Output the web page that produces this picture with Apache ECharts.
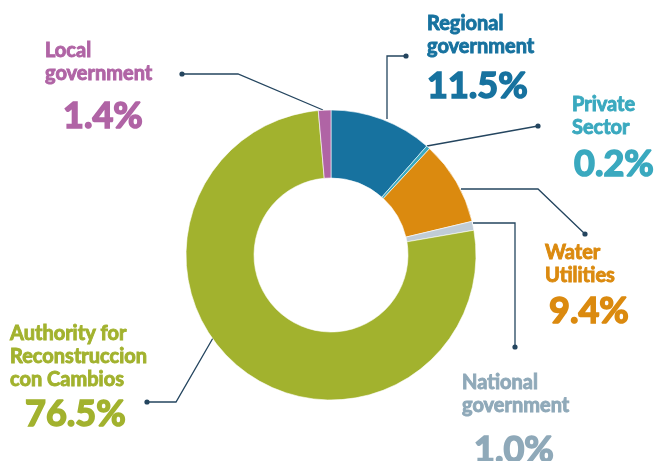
<!DOCTYPE html>
<html><head><meta charset="utf-8">
<script src="https://cdn.jsdelivr.net/npm/echarts@6/dist/echarts.min.js"></script>
<style>html,body{margin:0;padding:0;background:#fff}#c{width:660px;height:461px}</style>
</head><body><div id="c"></div>
<script>
// ---- data ----
const categories = ['Regional\ngovernment', 'Private\nSector', 'Water\nUtilities', 'National\ngovernment', 'Authority for\nReconstruccion\ncon Cambios', 'Local\ngovernment'];
const shares = [11.5, 0.2, 9.4, 1.0, 76.5, 1.4];
const shareLabels = ['11.5%', '0.2%', '9.4%', '1.0%', '76.5%', '1.4%'];

// ---- styles / annotation layout ----
const sliceColors = ['#17729f', '#3aa9bf', '#db8a0f', '#c0ccd6', '#a2b22e', '#b064a5'];
const textColors = ['#17729f', '#3aa9bf', '#db8a0f', '#8fa9b9', '#a2b22e', '#b064a5'];
// [x, top, value indent, value line height]
const labelBoxes = [[427, 12, 0, 56], [572, 93, 2, 50], [545, 241, 4, 49], [462, 371, 12, 67], [10, 322, 15, 46], [45, 39, 18, 62]];
const leaders = [
  [[387, 119], [387, 56], [406, 56]],
  [[427, 146], [538, 126]],
  [[461, 189], [538, 189], [585, 234]],
  [[473, 223], [515, 223], [515, 347]],
  [[213, 338], [176, 402], [147, 402]],
  [[323, 110], [238, 74], [182, 74]]
];
const lineColor = '#24455f';

const chart = echarts.init(document.getElementById('c'), null, {renderer: 'canvas'});

const data = categories.map((name, i) => {
  const c = textColors[i];
  const rich = {
    n: {fontFamily: 'Lato', fontWeight: 'bold', fontSize: 20, lineHeight: 23, color: c, align: 'left', textBorderColor: c, textBorderWidth: 0.9},
    v: {fontFamily: 'Lato', fontWeight: 'bold', fontSize: 36, lineHeight: labelBoxes[i][3], color: c, align: 'left', padding: [0, 0, 0, labelBoxes[i][2]], textBorderColor: c, textBorderWidth: 1.6}
  };
  return {
    name: name,
    value: shares[i],
    itemStyle: {color: sliceColors[i]},
    label: {
      formatter: () => name.split('\n').map(s => '{n|' + s + '}').join('\n') + '\n{v|' + shareLabels[i] + '}',
      rich: rich
    }
  };
});

chart.setOption({
  animation: false,
  series: [{
    type: 'pie',
    center: [331, 255],
    radius: [77, 145],
    startAngle: 90,
    clockwise: true,
    minAngle: 1.5,
    avoidLabelOverlap: false,
    itemStyle: {borderColor: '#fff', borderWidth: 0.6},
    emphasis: {disabled: true},
    label: {show: true, position: 'outside'},
    labelLine: {show: true, length: 10, length2: 10, lineStyle: {color: lineColor, width: 1.3}},
    labelLayout: function (p) {
      const i = p.dataIndex;
      const b = labelBoxes[i];
      return {x: b[0], y: b[1], align: 'left', verticalAlign: 'top', labelLinePoints: leaders[i]};
    },
    data: data
  }],
  graphic: leaders.map(pts => {
    const e = pts[pts.length - 1];
    return {type: 'circle', shape: {cx: e[0], cy: e[1], r: 2.6}, style: {fill: lineColor}, silent: true};
  })
});
</script></body></html>
